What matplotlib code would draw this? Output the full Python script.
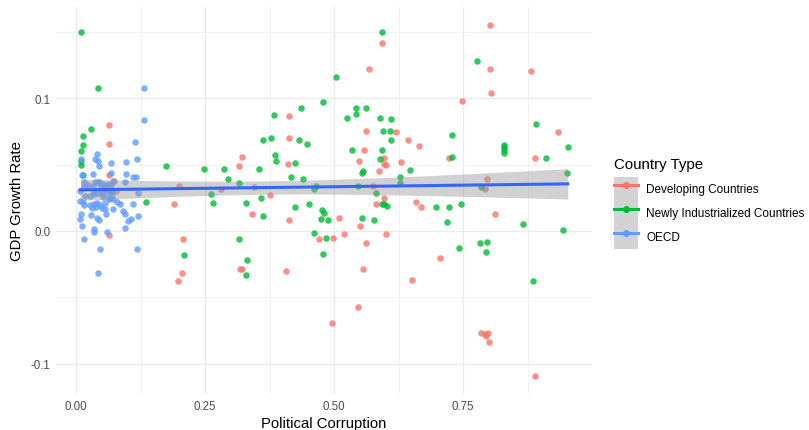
import numpy as np
import matplotlib
matplotlib.use("Agg")
import matplotlib.pyplot as plt
from matplotlib.lines import Line2D
from matplotlib.patches import Patch

plt.rcParams['font.family'] = ['Liberation Sans', 'DejaVu Sans']

# Developing Countries
dev_x = [0.063, 0.063, 0.063, 0.074, 0.316, 0.199, 0.280, 0.078, 0.063, 0.189, 0.208, 0.206, 0.198, 0.318,
         0.592, 0.567, 0.413, 0.620, 0.562, 0.643, 0.664, 0.413, 0.559, 0.322, 0.411, 0.345, 0.375, 0.549,
         0.596, 0.596, 0.600, 0.588, 0.629, 0.576, 0.596,
         0.340, 0.413, 0.510, 0.471, 0.497, 0.519, 0.322, 0.406, 0.581, 0.550, 0.600, 0.562, 0.557, 0.546,
         0.496, 0.652, 0.658,
         0.803, 0.803, 0.882, 0.804, 0.748, 0.935, 0.722, 0.889, 0.797, 0.793,
         0.668, 0.812, 0.705, 0.785, 0.793, 0.798, 0.795, 0.801, 0.889]
dev_y = [0.080, 0.066, 0.042, 0.038, 0.049, 0.034, 0.032, 0.030, -0.003, 0.020, -0.006, -0.032, -0.038, -0.029,
         0.142, 0.122, 0.087, 0.075, 0.0755, 0.069, 0.064, 0.070, 0.061, 0.0556, 0.0506, 0.0335, 0.027, 0.0526,
         0.055, 0.0506, 0.050, 0.0455, 0.052, 0.034, 0.025,
         0.013, 0.008, 0.0098, -0.006, -0.005, -0.0023, -0.0287, -0.030, 0.020, 0.0035, -0.0023, -0.0093, -0.029, -0.0574,
         -0.0694, -0.037, 0.0216,
         0.1555, 0.122, 0.121, 0.104, 0.098, 0.0745, 0.055, 0.0553, 0.039, 0.032,
         0.018, 0.0128, -0.0204, -0.077, -0.0777, -0.077, -0.0795, -0.084, -0.1097]

# Newly Industrialized Countries
nic_x = [0.0097, 0.042, 0.029, 0.013, 0.013, 0.010, 0.010, 0.010, 0.013, 0.175, 0.247, 0.286, 0.294, 0.316,
         0.262, 0.067, 0.136, 0.265, 0.210, 0.315,
         0.592, 0.504, 0.479, 0.436, 0.542, 0.561, 0.542, 0.383, 0.525, 0.589, 0.610, 0.594, 0.609, 0.610,
         0.378, 0.362, 0.433, 0.448, 0.534, 0.592, 0.386, 0.387, 0.425, 0.355, 0.417, 0.440, 0.358, 0.462,
         0.465, 0.590, 0.554, 0.556, 0.647, 0.627, 0.628, 0.546, 0.582,
         0.329, 0.362, 0.424, 0.452, 0.476, 0.481, 0.475, 0.489, 0.462, 0.485, 0.479, 0.332, 0.329,
         0.592, 0.596, 0.602, 0.554, 0.578,
         0.777, 0.892, 0.728, 0.829, 0.829, 0.829, 0.829, 0.953, 0.728, 0.910, 0.952, 0.785,
         0.698, 0.722, 0.746, 0.718, 0.866, 0.944, 0.782, 0.796, 0.742, 0.795, 0.886]
nic_y = [0.150, 0.108, 0.077, 0.072, 0.065, 0.060, 0.053, 0.050, 0.042, 0.049, 0.047, 0.047, 0.039, 0.036,
         0.028, 0.030, 0.022, 0.021, -0.018, -0.006,
         0.150, 0.116, 0.0976, 0.093, 0.093, 0.093, 0.088, 0.0875, 0.085, 0.0855, 0.0845, 0.0757, 0.0755, 0.069,
         0.070, 0.069, 0.069, 0.066, 0.061, 0.061, 0.057, 0.053, 0.051, 0.047, 0.041, 0.039, 0.025, 0.032,
         0.034, 0.054, 0.044, 0.045, 0.046, 0.041, 0.036, 0.034, 0.029,
         0.021, 0.011, 0.018, 0.0206, 0.016, 0.0134, 0.0088, 0.0085, -0.0015, -0.0053, -0.0174, -0.022, -0.0335,
         0.020, 0.0206, 0.019, 0.0098, 0.0083,
         0.128, 0.0805, 0.0727, 0.065, 0.063, 0.061, 0.0587, 0.063, 0.0556, 0.0553, 0.0435, 0.033,
         0.018, 0.018, 0.020, 0.0065, 0.005, 0.001, -0.0093, -0.008, -0.0128, -0.016, -0.0377]

# OECD
oecd_x = [0.132, 0.132, 0.115, 0.040, 0.037, 0.010, 0.068, 0.097, 0.118, 0.044, 0.042, 0.012, 0.032, 0.068,
          0.097, 0.111, 0.117, 0.037, 0.072, 0.094,
          0.015, 0.032, 0.034, 0.042, 0.048, 0.055, 0.062, 0.017, 0.027, 0.053, 0.066, 0.016, 0.053, 0.068,
          0.034, 0.043, 0.050, 0.059, 0.069, 0.008, 0.045, 0.023, 0.058, 0.119, 0.110,
          0.008, 0.013, 0.016, 0.027, 0.034, 0.041, 0.047, 0.056, 0.063, 0.072, 0.080, 0.085, 0.030, 0.039,
          0.050, 0.056, 0.072, 0.028, 0.041, 0.045, 0.058, 0.090, 0.095, 0.101, 0.106, 0.119, 0.009, 0.008,
          0.011, 0.034, 0.034, 0.016, 0.059, 0.095, 0.047, 0.118, 0.042]
oecd_y = [0.108, 0.084, 0.067, 0.058, 0.054, 0.054, 0.051, 0.052, 0.054, 0.049, 0.053, 0.042, 0.043, 0.044,
          0.043, 0.041, 0.041, 0.037, 0.038, 0.037,
          0.034, 0.034, 0.030, 0.037, 0.034, 0.031, 0.0355, 0.0267, 0.0267, 0.0254, 0.0247, 0.037, 0.0355, 0.0347,
          0.028, 0.0287, 0.028, 0.029, 0.029, 0.030, 0.037, 0.0347, 0.034, 0.029, 0.020,
          0.023, 0.0217, 0.0196, 0.0196, 0.020, 0.021, 0.0196, 0.021, 0.024, 0.024, 0.022, 0.020, 0.017, 0.018,
          0.017, 0.0166, 0.0166, 0.012, 0.0096, 0.0085, 0.013, 0.015, 0.0128, 0.0078, 0.009, 0.011, 0.013, 0.009,
          0.0035, 0.0015, -0.001, -0.006, -0.0005, 0.002, -0.0136, -0.0136, -0.032]

groups = ['Developing Countries', 'Newly Industrialized Countries', 'OECD']
colors = ['#F8766D', '#00BA38', '#619CFF']
xs = [dev_x, nic_x, oecd_x]
ys = [dev_y, nic_y, oecd_y]

fig = plt.figure(figsize=(8.09, 4.31), dpi=100)
ax = fig.add_axes([56 / 809, 1 - 395 / 431, (592 - 56) / 809, (395 - 8) / 431])

for gx, gy, c in zip(xs, ys, colors):
    ax.scatter(gx, gy, s=22, color=c, alpha=0.8, linewidths=0, zorder=3)

# linear fit over all points with 95% band (like geom_smooth(method='lm'))
all_x = np.concatenate([np.array(v) for v in xs])
all_y = np.concatenate([np.array(v) for v in ys])
b, a = np.polyfit(all_x, all_y, 1)
n = len(all_x)
resid = all_y - (a + b * all_x)
s = np.sqrt(np.sum(resid ** 2) / (n - 2))
xx = np.linspace(all_x.min(), all_x.max(), 100)
se = s * np.sqrt(1 / n + (xx - all_x.mean()) ** 2 / np.sum((all_x - all_x.mean()) ** 2))
yy = a + b * xx
ax.fill_between(xx, yy - 1.97 * se, yy + 1.97 * se, color='#999999', alpha=0.45, linewidth=0, zorder=4)
ax.plot(xx, yy, color='#3366FF', lw=2.2, zorder=5)

ax.set_xlim(-0.039, 1.0)
ax.set_ylim(-0.123, 0.169)
ax.set_xticks([0, 0.25, 0.5, 0.75])
ax.set_xticklabels(['0.00', '0.25', '0.50', '0.75'])
ax.set_yticks([-0.1, 0.0, 0.1])
ax.set_yticklabels(['-0.1', '0.0', '0.1'])
ax.set_xticks([0.125, 0.375, 0.625, 0.875], minor=True)
ax.set_yticks([-0.05, 0.05, 0.15], minor=True)
ax.grid(which='major', color='#EBEBEB', lw=1.0)
ax.grid(which='minor', color='#F0F0F0', lw=0.6)
ax.set_axisbelow(True)
for sp in ax.spines.values():
    sp.set_visible(False)
ax.tick_params(which='both', length=0, labelsize=8.3, labelcolor='#4D4D4D', pad=4)

ax.set_xlabel('Political Corruption', fontsize=10.7, color='black', labelpad=3)
ax.set_ylabel('GDP Growth Rate', fontsize=10.7, color='black', labelpad=5)

handles = [(Patch(facecolor='#D3D3D3', edgecolor='none'),
            Line2D([], [], color=c, lw=2.2, marker='o', markersize=4)) for c in colors]
leg = fig.legend(handles, groups, title='Country Type', loc='upper left',
                 bbox_to_anchor=(612 / 809, 1 - 156 / 431), frameon=False,
                 fontsize=8.5, title_fontsize=10.8, handlelength=2.03, handleheight=2.75,
                 labelspacing=0, handletextpad=0.68, borderaxespad=0, borderpad=0.2)
leg._legend_box.align = 'left'
leg._legend_box.sep = 4

fig.savefig('out.png', dpi=100)
